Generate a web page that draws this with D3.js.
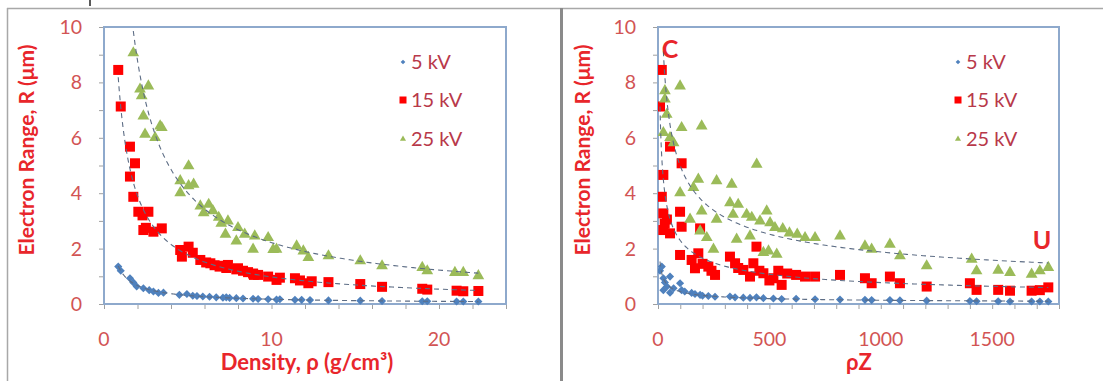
<!DOCTYPE html>
<html><head><meta charset="utf-8">
<script src="https://cdn.jsdelivr.net/npm/d3@7"></script>
<style>body{margin:0;background:#fff}svg{display:block}</style>
</head><body>
<svg id="c" width="1103" height="381"></svg>
<script>
// ---------- data ----------
const seriesNames = ["5 kV", "15 kV", "25 kV"];
const yTicks = [0, 2, 4, 6, 8, 10];
const xTicksDensity = [0, 10, 20];
const xTicksRhoZ = [0, 500, 1000, 1500];

// Left panel: density rho (g/cm3) vs range R (um)
const dens5kV = [[0.85,1.35],[1.0,1.2],[1.55,0.93],[1.75,0.78],[1.95,0.63],[2.35,0.57],[2.7,0.5],[2.95,0.45],[3.25,0.4],[3.55,0.41],[4.5,0.33],[4.95,0.36],[5.3,0.3],[5.55,0.29],[5.9,0.27],[6.3,0.26],[6.7,0.24],[7.1,0.23],[7.3,0.24],[7.5,0.22],[7.9,0.21],[8.3,0.2],[8.9,0.19],[9.2,0.18],[9.8,0.17],[10.3,0.16],[10.5,0.17],[11.4,0.15],[11.8,0.15],[12.3,0.14],[13.4,0.13],[15.3,0.12],[16.6,0.11],[19.0,0.1],[19.3,0.1],[21.05,0.09],[21.45,0.09],[22.35,0.09]];
const dens15kV = [[0.85,8.45],[1.0,7.13],[1.55,5.68],[1.85,5.08],[1.55,4.6],[1.75,3.87],[2.05,3.33],[2.3,3.2],[2.65,3.33],[2.35,2.67],[2.5,2.75],[2.95,2.61],[3.45,2.73],[4.55,1.95],[4.65,1.71],[5.05,2.07],[5.3,1.85],[5.75,1.59],[6.1,1.5],[6.35,1.47],[6.6,1.4],[6.9,1.35],[7.15,1.38],[7.3,1.3],[7.4,1.41],[7.9,1.25],[8.0,1.29],[8.3,1.2],[8.6,1.15],[8.9,1.1],[8.95,1.05],[9.2,1.05],[9.8,0.99],[10.3,0.87],[10.5,0.95],[11.4,0.93],[11.7,0.85],[12.2,0.75],[12.4,0.82],[13.4,0.79],[15.3,0.72],[16.6,0.62],[19.0,0.55],[19.3,0.52],[21.05,0.48],[21.45,0.46],[22.35,0.47]];
const dens25kV = [[1.75,9.1],[2.15,7.79],[2.25,7.55],[2.65,7.9],[2.35,6.82],[2.45,6.16],[3.05,6.04],[3.35,6.46],[3.45,6.4],[4.55,4.48],[4.55,4.05],[5.05,5.02],[5.05,4.3],[5.35,4.36],[5.75,3.57],[5.95,3.33],[6.25,3.63],[6.5,3.4],[6.85,3.16],[7.0,2.95],[7.25,2.55],[7.4,3.03],[7.9,2.31],[8.0,2.79],[8.4,2.55],[8.9,2.01],[9.0,2.49],[9.8,2.43],[10.1,2.0],[10.3,2.01],[11.5,2.13],[11.9,1.95],[12.2,1.71],[13.4,1.77],[15.3,1.59],[16.6,1.41],[19.0,1.35],[19.3,1.23],[20.95,1.17],[21.45,1.17],[22.35,1.05]];

// Right panel: rho*Z vs range R (um)
const rz5kV = [[9,1.2],[17,1.35],[24,0.93],[24,0.5],[31,0.78],[40,0.63],[54,0.99],[54,0.41],[70,0.57],[99,0.75],[106,0.5],[120,0.45],[151,0.4],[166,0.36],[189,0.33],[200,0.3],[226,0.29],[256,0.26],[323,0.27],[346,0.24],[383,0.23],[413,0.22],[442,0.24],[473,0.21],[518,0.2],[555,0.18],[620,0.19],[705,0.17],[817,0.16],[929,0.15],[959,0.14],[1041,0.14],[1086,0.13],[1206,0.12],[1400,0.11],[1430,0.1],[1527,0.1],[1580,0.09],[1677,0.09],[1714,0.09],[1752,0.09]];
const rz15kV = [[9,7.13],[17,8.45],[17,3.87],[24,4.66],[24,3.27],[24,2.67],[30,2.9],[40,3.05],[54,5.68],[54,2.55],[99,3.33],[99,1.77],[106,5.08],[106,2.79],[151,1.59],[166,1.29],[181,1.83],[189,2.73],[200,1.45],[226,1.35],[240,1.2],[256,1.05],[323,1.71],[346,1.47],[360,1.3],[383,1.23],[413,0.99],[428,1.47],[442,2.07],[455,1.2],[473,1.11],[500,0.85],[518,0.93],[540,1.2],[555,0.69],[580,1.1],[620,1.05],[660,0.99],[705,0.99],[817,1.05],[929,0.93],[959,0.75],[1041,0.99],[1086,0.75],[1206,0.63],[1400,0.75],[1430,0.51],[1527,0.51],[1580,0.48],[1677,0.48],[1714,0.5],[1752,0.6]];
const rz25kV = [[24,6.22],[31,7.73],[31,7.43],[39,6.88],[54,6.04],[70,5.85],[99,7.9],[99,4.05],[106,6.4],[144,3.09],[159,4.24],[181,4.54],[189,2.67],[196,6.46],[196,3.39],[219,2.43],[249,2.01],[263,4.48],[263,3.09],[323,3.69],[331,4.36],[337,3.27],[353,2.37],[360,3.63],[398,3.27],[413,2.49],[421,3.16],[443,5.08],[458,3.03],[473,1.89],[488,3.39],[496,1.95],[503,2.97],[525,2.79],[533,1.83],[560,2.75],[590,2.6],[625,2.55],[660,2.43],[705,2.43],[817,2.49],[929,2.13],[959,2.01],[1041,2.19],[1086,1.77],[1206,1.41],[1408,1.65],[1430,1.23],[1527,1.25],[1580,1.17],[1677,1.11],[1714,1.23],[1752,1.35]];

// ---------- style ----------
const FONT = "Lato, 'Open Sans', sans-serif";
const colBlue = "#4f81bd", colRed = "#ff0000", colGreen = "#9bbb59";
const titleCol = "#e8262b", tickCol = "#d25454", legCol = "#b8394a";
const trendCol = "#5d6d85";

const svg = d3.select("#c");

// outer frames
svg.append("rect").attr("x",0).attr("y",0).attr("width",1103).attr("height",381).attr("fill","#fff");
svg.append("line").attr("x1",7).attr("x2",1103).attr("y1",8.5).attr("y2",8.5).attr("stroke","#a8a8a8").attr("stroke-width",1.5);
svg.append("line").attr("x1",7.5).attr("x2",7.5).attr("y1",8).attr("y2",381).attr("stroke","#a8a8a8").attr("stroke-width",1.5);
svg.append("line").attr("x1",561.5).attr("x2",561.5).attr("y1",8).attr("y2",381).attr("stroke","#8a8a8a").attr("stroke-width",3);
svg.append("line").attr("x1",90).attr("x2",90).attr("y1",0).attr("y2",6).attr("stroke","#222").attr("stroke-width",1.5);

function powerFit(pts){
  const n = pts.length;
  let sx=0, sy=0, sxx=0, sxy=0;
  pts.forEach(([x,y])=>{const lx=Math.log(x), ly=Math.log(y); sx+=lx; sy+=ly; sxx+=lx*lx; sxy+=lx*ly;});
  const b = (n*sxy - sx*sy)/(n*sxx - sx*sx);
  const a = Math.exp((sy - b*sx)/n);
  return {a,b};
}

function panel(opt){
  const {x0,x1,y0,y1,xmax,xMinorStep,xTicks,data,xTitle,xTitleX,yTitleX,legX,labels} = opt;
  const x = d3.scaleLinear().domain([0,xmax]).range([x0,x1]);
  const y = d3.scaleLinear().domain([0,10]).range([y1,y0]);
  const g = svg.append("g");

  // minor/major ticks
  const xt = d3.range(0, xmax+1e-9, xMinorStep);
  g.append("g").attr("transform",`translate(0,${y1})`)
    .call(d3.axisBottom(x).tickValues(xt).tickSize(5).tickFormat(""))
    .call(a=>{a.select(".domain").remove(); a.selectAll("line").attr("stroke","#a0a0a0");});
  g.append("g").attr("transform",`translate(${x0},0)`)
    .call(d3.axisLeft(y).tickValues(d3.range(0,10.01,1)).tickSize(5).tickFormat(""))
    .call(a=>{a.select(".domain").remove(); a.selectAll("line").attr("stroke","#a0a0a0");});

  // tick labels
  g.append("g").selectAll("text").data(xTicks).join("text")
    .attr("x",d=>x(d)).attr("y",346).attr("text-anchor","middle")
    .attr("fill",tickCol).attr("font-family",FONT).attr("font-size",19.5).text(d3.format("d"));
  g.append("g").selectAll("text").data(yTicks).join("text")
    .attr("x",x0-22).attr("y",d=>y(d)+7).attr("text-anchor","end")
    .attr("fill",tickCol).attr("font-family",FONT).attr("font-size",19.5).text(d3.format("d"));

  // plot area border
  g.append("rect").attr("x",x0).attr("y",y0).attr("width",x1-x0).attr("height",y1-y0)
    .attr("fill","none").attr("stroke","#8ea9cc").attr("stroke-width",2);

  const clip = "clip"+x0;
  svg.append("clipPath").attr("id",clip).append("rect").attr("x",x0).attr("y",y0-12).attr("width",x1-x0+8).attr("height",y1-y0+20);
  const pg = g.append("g").attr("clip-path",`url(#${clip})`);

  const cols = [colBlue,colRed,colGreen];
  // markers
  data.forEach((pts,i)=>{
    const s = pg.append("g");
    if(i===0){
      s.selectAll("path").data(pts).join("path")
        .attr("d", d3.symbol().type(d3.symbolDiamond2).size(42))
        .attr("transform",d=>`translate(${x(d[0])},${y(d[1])})`)
        .attr("fill",cols[i]);
    } else if(i===1){
      s.selectAll("rect").data(pts).join("rect")
        .attr("x",d=>x(d[0])-5).attr("y",d=>y(d[1])-5).attr("width",10).attr("height",10)
        .attr("fill",cols[i]);
    } else {
      s.selectAll("path").data(pts).join("path")
        .attr("d", d3.symbol().type(d3.symbolTriangle).size(60))
        .attr("transform",d=>`translate(${x(d[0])},${y(d[1])+1})`)
        .attr("fill",cols[i]);
    }
  });
  // trend lines (least-squares power fit of each series)
  data.forEach((pts)=>{
    const f = powerFit(pts);
    const ext = d3.extent(pts, d=>d[0]);
    const xs = d3.range(0,201).map(k=>ext[0]*Math.pow(ext[1]/ext[0], k/200));
    const line = d3.line().x(v=>x(v)).y(v=>y(Math.min(f.a*Math.pow(v,f.b),10.3)));
    pg.append("path").attr("d",line(xs)).attr("fill","none")
      .attr("stroke",trendCol).attr("stroke-width",1.1).attr("stroke-dasharray","5,4");
  });

  // legend
  const ly = [62,100,139];
  seriesNames.forEach((nm,i)=>{
    const lg = g.append("g").attr("transform",`translate(${legX},${ly[i]})`);
    if(i===0) lg.append("path").attr("d",d3.symbol().type(d3.symbolDiamond2).size(14)).attr("fill",colBlue);
    else if(i===1) lg.append("rect").attr("x",-3.5).attr("y",-3.5).attr("width",7).attr("height",7).attr("fill",colRed);
    else lg.append("path").attr("d",d3.symbol().type(d3.symbolTriangle).size(16)).attr("fill",colGreen);
    lg.append("text").attr("x",8).attr("y",7).text(nm).attr("fill",legCol)
      .attr("font-family",FONT).attr("font-size",20);
  });

  // titles
  g.append("text").attr("transform",`translate(${yTitleX},150) rotate(-90)`)
    .attr("text-anchor","middle").attr("font-family",FONT).attr("font-weight","bold").attr("font-size",21)
    .attr("fill",titleCol).text("Electron Range, R (μm)");
  g.append("text").attr("x",xTitleX).attr("y",370).attr("text-anchor","middle")
    .attr("font-family",FONT).attr("font-weight","bold").attr("font-size",22).attr("fill",titleCol).text(xTitle);

  (labels||[]).forEach(l=>{
    g.append("text").attr("x",l.x).attr("y",l.y).attr("text-anchor","middle")
      .attr("font-family",FONT).attr("font-weight","bold").attr("font-size",25).attr("fill",titleCol).text(l.t);
  });
}

panel({x0:104,x1:506,y0:27,y1:304,xmax:24,xMinorStep:2,xTicks:xTicksDensity,
  data:[dens5kV,dens15kV,dens25kV],xTitle:"Density, ρ (g/cm³)",xTitleX:307,yTitleX:34,legX:403});
panel({x0:658,x1:1059,y0:27,y1:304,xmax:1800,xMinorStep:100,xTicks:xTicksRhoZ,
  data:[rz5kV,rz15kV,rz25kV],xTitle:"ρZ",xTitleX:859,yTitleX:590,legX:958,
  labels:[{t:"C",x:670,y:58},{t:"U",x:1042,y:249}]});
</script>
</body></html>
